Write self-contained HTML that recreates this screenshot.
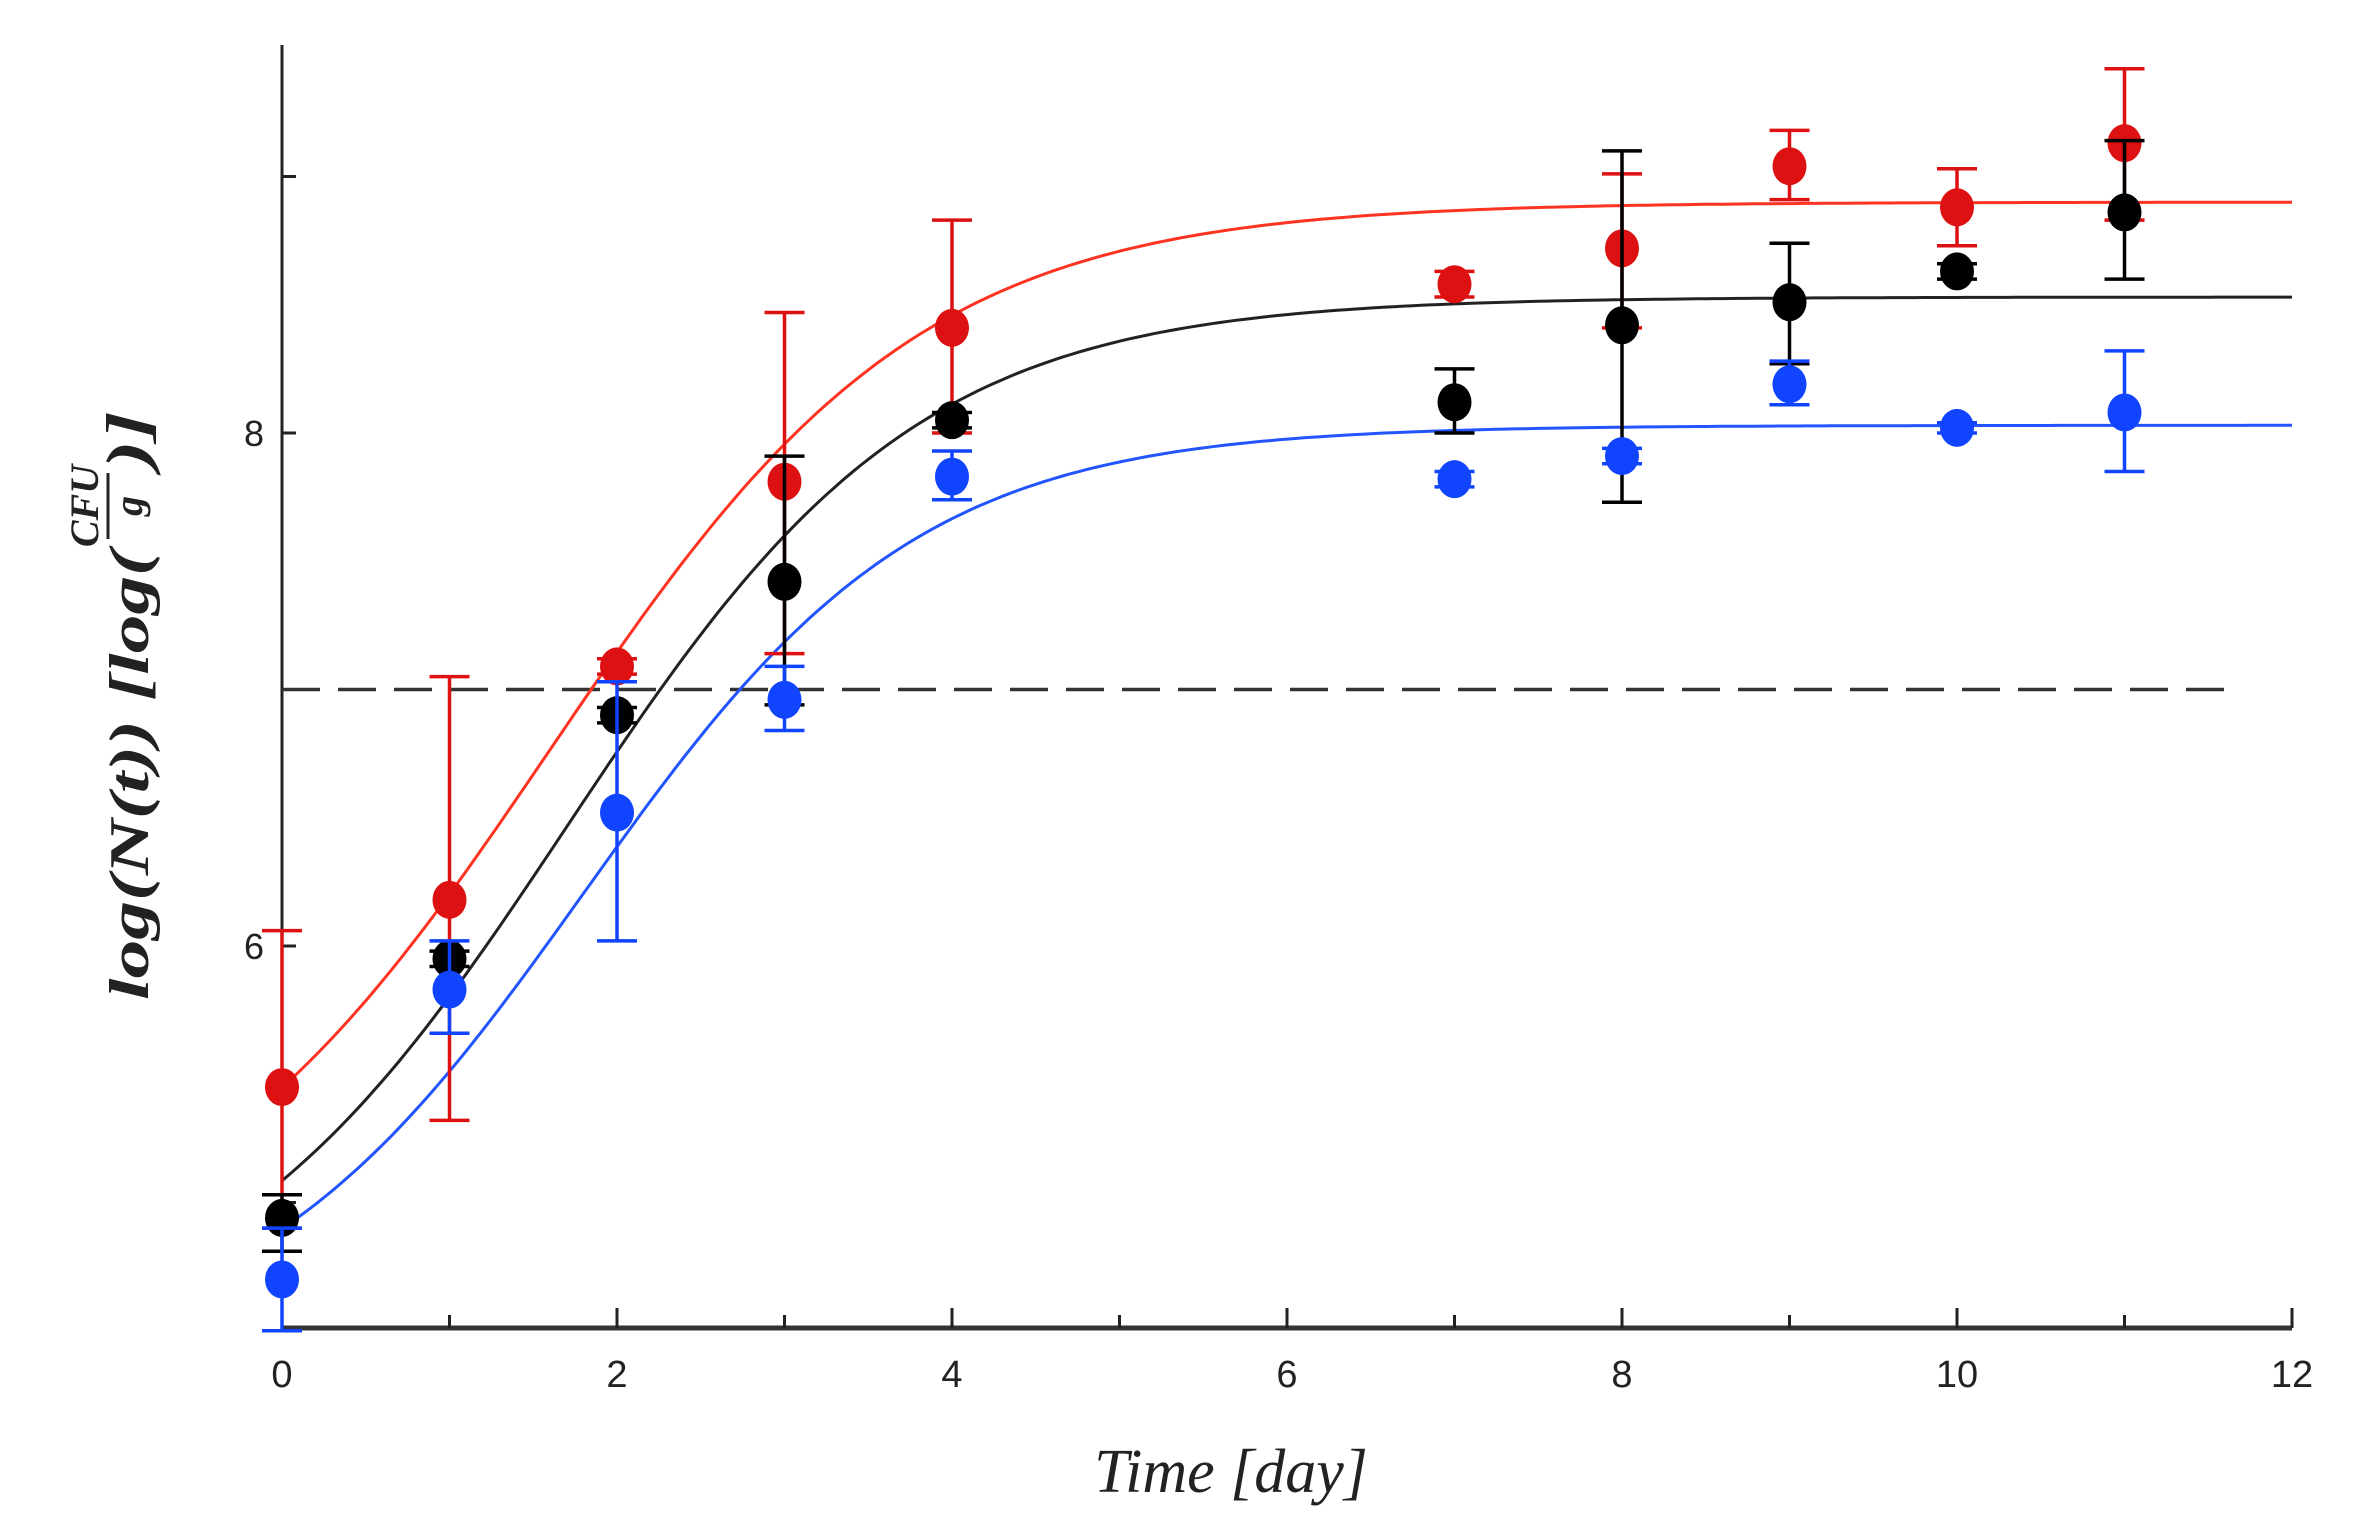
<!DOCTYPE html>
<html><head><meta charset="utf-8"><style>
html,body{margin:0;padding:0;background:#fff;}
svg{display:block;}
</style></head><body>
<svg id="chart" width="2360" height="1535" viewBox="0 0 2360 1535" xmlns="http://www.w3.org/2000/svg">
<g id="plot"></g>
<g transform="translate(148,711) rotate(-90)" font-family="Liberation Serif, serif" font-style="italic" font-weight="bold" fill="#222">
  <text x="-289" y="0" font-size="56" textLength="450" lengthAdjust="spacingAndGlyphs">log(N(t)) [log(</text>
  <text x="205" y="-50" font-size="40" text-anchor="middle">CFU</text>
  <line x1="172" y1="-40" x2="238" y2="-40" stroke="#222" stroke-width="3"/>
  <text x="205" y="-6" font-size="40" text-anchor="middle">g</text>
  <text x="242" y="0" font-size="60" textLength="58" lengthAdjust="spacingAndGlyphs">)]</text>
</g>
<text x="1231" y="1492" text-anchor="middle" font-family="Liberation Serif, serif" font-style="italic" font-size="62" fill="#222">Time [day]</text>
</svg>
<script>
const days = [0,1,2,3,4,7,8,9,10,11];
const redVals = [5.45,6.18,7.09,7.81,8.41,8.58,8.72,9.04,8.88,9.13];
const redHi = [6.06,7.05,7.12,8.47,8.83,8.63,9.01,9.18,9.03,9.42];
const redLo = [4.9,5.32,7.06,7.14,8.0,8.53,8.41,8.91,8.73,8.83];
const blackVals = [4.94,5.95,6.90,7.42,8.05,8.12,8.42,8.51,8.63,8.86];
const blackHi = [5.03,5.98,6.93,7.91,8.08,8.25,9.10,8.74,8.66,9.14];
const blackLo = [4.81,5.92,6.87,6.94,8.02,8.0,7.73,8.27,8.60,8.6];
const blueVals = [4.70,5.83,6.52,6.96,7.83,7.82,7.91,8.19,8.02,8.08];
const blueHi = [4.90,6.02,7.03,7.09,7.93,7.85,7.94,8.28,8.04,8.32];
const blueLo = [4.5,5.66,6.02,6.84,7.74,7.79,7.88,8.11,8.00,7.85];
// logistic fit params [lower, upper, k, tmid]
const redFit = [4.63,8.9,0.9,1.6];
const blackFit = [4.40,8.53,0.95,1.7];
const blueFit = [4.38,8.03,1.0,1.8];
const xTicks = [0,1,2,3,4,5,6,7,8,9,10,11,12];
const xLabels = [0,2,4,6,8,10,12];
const yTicks = [5,6,7,8,9];
const yLabels = [6,8];
const threshold = 7;

const X0=282, XS=167.5, Y6=946, YS=256.5, YB=1328;
const sx = t => X0 + t*XS;
const sy = v => Y6 - (v-6)*YS;
const NS='http://www.w3.org/2000/svg';
const plot=document.getElementById('plot');
function mk(tag,attrs){const e=document.createElementNS(NS,tag);for(const k in attrs)e.setAttribute(k,attrs[k]);plot.appendChild(e);return e;}

let a=mk('line',{x1:X0,y1:45,x2:X0,y2:YB,stroke:'#222','stroke-width':3});


a=mk('line',{x1:X0,y1:YB,x2:sx(12),y2:YB,stroke:'#333','stroke-width':5});


xTicks.forEach(t=>{
  const len = t%2===0?20:13;
  const e=mk('line',{x1:sx(t),y1:YB,x2:sx(t),y2:YB-len,stroke:'#222','stroke-width':3});
  
  
});
xLabels.forEach(t=>{
  const e=mk('text',{x:sx(t),y:1387,'text-anchor':'middle','font-family':'Liberation Sans, sans-serif','font-size':38,fill:'#222'});
  e.textContent=t;
  
  
});
yTicks.forEach(v=>{
  const e=mk('line',{x1:X0,y1:sy(v),x2:X0+14,y2:sy(v),stroke:'#222','stroke-width':3});
  
  
});
yLabels.forEach(v=>{
  const e=mk('text',{x:X0-18,y:sy(v)+13,'text-anchor':'end','font-family':'Liberation Sans, sans-serif','font-size':36,fill:'#222'});
  e.textContent=v;
  
  
});
a=mk('line',{x1:X0,y1:sy(threshold),x2:2232,y2:sy(threshold),stroke:'#333','stroke-width':3.5,'stroke-dasharray':'38 18'});



function curve(p,color,name){
  let d='';
  for(let i=0;i<=240;i++){const t=i*12/240;const v=p[0]+(p[1]-p[0])/(1+Math.exp(-p[2]*(t-p[3])));d+=(i?'L':'M')+sx(t).toFixed(1)+' '+sy(v).toFixed(1);}
  const e=mk('path',{d:d,fill:'none',stroke:color,'stroke-width':3});
  
  
}
curve(redFit,'#ff3322','red-fit-curve');
curve(blackFit,'#222','black-fit-curve');
curve(blueFit,'#2255ff','blue-fit-curve');

function series(vals,hi,lo,color,name){
  days.forEach((t,i)=>{
    const x=sx(t);
    const e=mk('path',{d:`M${x} ${sy(hi[i])}V${sy(lo[i])}M${x-20} ${sy(hi[i])}H${x+20}M${x-20} ${sy(lo[i])}H${x+20}`,stroke:color,'stroke-width':3.5,fill:'none'});
    
    
  });
  days.forEach((t,i)=>{
    const c=mk('ellipse',{cx:sx(t),cy:sy(vals[i]),rx:17,ry:19,fill:color});
    
    
  });
}
series(redVals,redHi,redLo,'#dd1111','red');
series(blackVals,blackHi,blackLo,'#000','black');
series(blueVals,blueHi,blueLo,'#1144ff','blue');
</script>
</body></html>
